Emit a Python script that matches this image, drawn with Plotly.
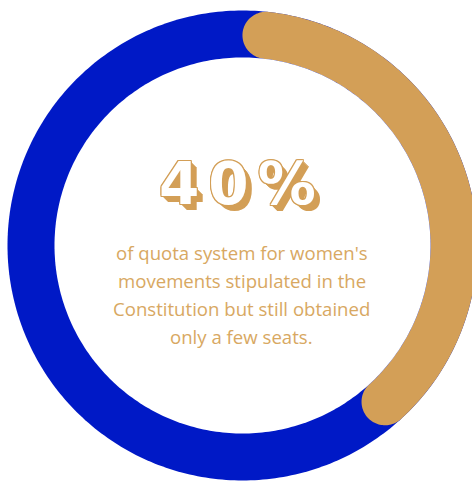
import numpy as np
import plotly.graph_objects as go

# ---- data ----
share_pct = 40
rest_pct = 100 - share_pct
headline = "40%"
caption_lines = [
    "of quota system for women's",
    "movements stipulated in the",
    "Constitution but still obtained",
    "only a few seats.",
]

# ---- geometry / style ----
W, H = 472, 481
CX, CY = 242.5, 245.5
R_OUT, R_IN = 235.0, 188.0
BLUE = "#0019C6"
GOLD = "#D39F57"
TEXT_GOLD = "#D8A862"


def pt(r, deg):
    t = np.radians(deg)
    return CX + r * np.sin(t), CY - r * np.cos(t)


fig = go.Figure()

# blue full ring (disk, inner part later covered)
ang = np.linspace(0, 360, 361)
bx, by = pt(R_OUT, ang)
fig.add_trace(go.Scatter(x=bx, y=by, fill="toself", fillcolor=BLUE,
                         mode="none", hoverinfo="skip", showlegend=False))

# gold arc with rounded caps
span = share_pct / 100 * 360
w = (R_OUT - R_IN) / 2
rm = (R_OUT + R_IN) / 2
capdeg = np.degrees(w / rm)
a0, a1 = capdeg, span - capdeg
xs, ys = [], []
arc = np.linspace(a0, a1, 200)
ox, oy = pt(R_OUT, arc)
xs += list(ox); ys += list(oy)
# end cap
cxe, cye = pt(rm, a1)
ta = np.radians(a1)
rad = np.array([np.sin(ta), -np.cos(ta)])
tan = np.array([np.cos(ta), np.sin(ta)])
for phi in np.linspace(0, np.pi, 60):
    v = np.cos(phi) * rad + np.sin(phi) * tan
    xs.append(cxe + w * v[0]); ys.append(cye + w * v[1])
ix, iy = pt(R_IN, arc[::-1])
xs += list(ix); ys += list(iy)
# start cap
cxs, cys = pt(rm, a0)
ta = np.radians(a0)
rad = np.array([np.sin(ta), -np.cos(ta)])
tan = np.array([np.cos(ta), np.sin(ta)])
for phi in np.linspace(np.pi, 0, 60):
    v = np.cos(phi) * rad - np.sin(phi) * tan
    xs.append(cxs + w * v[0]); ys.append(cys + w * v[1])
fig.add_trace(go.Scatter(x=xs, y=ys, fill="toself", fillcolor=GOLD,
                         mode="none", hoverinfo="skip", showlegend=False))

# white inner disk
wx, wy = pt(R_IN, ang)
fig.add_trace(go.Scatter(x=wx, y=wy, fill="toself", fillcolor="white",
                         mode="none", hoverinfo="skip", showlegend=False))

# headline with outline + extrusion
outline = [f"{dx}px {dy}px 0 {GOLD}" for dx, dy in
           [(1, 0), (-1, 0), (0, 1), (0, -1), (1, 1), (-1, -1), (1, -1), (-1, 1)]]
extrude = [f"{k}px {k}px 0 {GOLD}" for k in range(2, 7)]
fig.add_annotation(x=CX - 1, y=184,
                   text=f'<span style="letter-spacing:9px">{headline}</span>',
                   showarrow=False,
                   font=dict(family="DejaVu Sans", size=58, color="white",
                             weight="bold", shadow=", ".join(outline + extrude)),
                   xanchor="center", yanchor="middle")

line_y = [252, 280, 308, 336]
for t, yy in zip(caption_lines, line_y):
    fig.add_annotation(x=CX - 1, y=yy, text=t, showarrow=False,
                       font=dict(family="Open Sans", size=18.6, color=TEXT_GOLD),
                       xanchor="center", yanchor="middle")

fig.update_layout(
    width=W, height=H, margin=dict(l=0, r=0, t=0, b=0),
    paper_bgcolor="white", plot_bgcolor="white",
    xaxis=dict(range=[0, W], visible=False, fixedrange=True),
    yaxis=dict(range=[H, 0], visible=False, fixedrange=True),
)
fig.write_html("out.html")
